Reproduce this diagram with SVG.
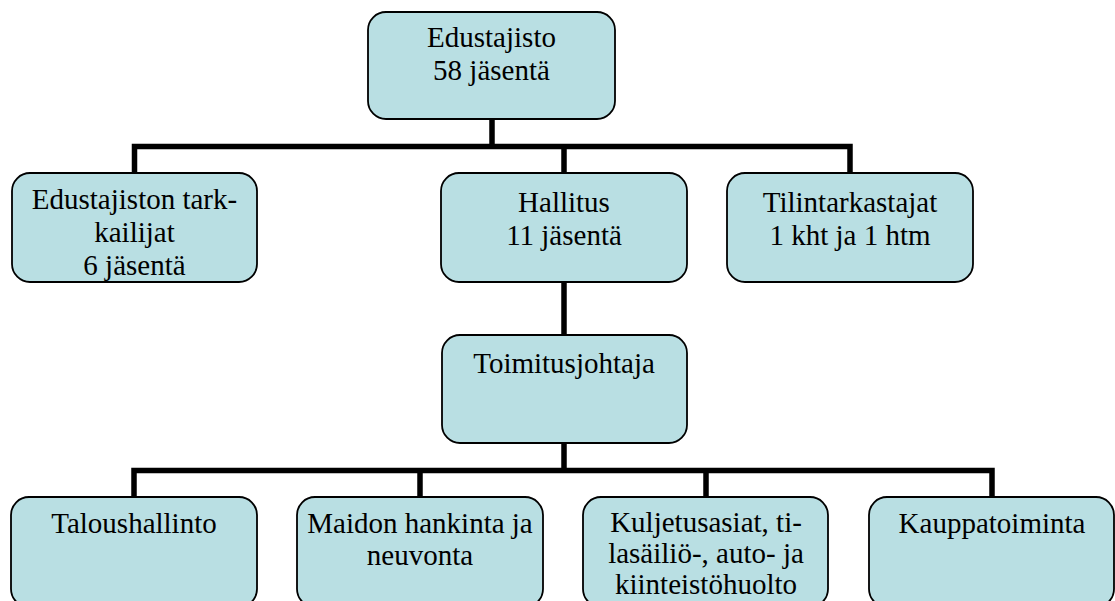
<svg xmlns="http://www.w3.org/2000/svg" width="1115" height="601" viewBox="0 0 1115 601">
<style>
.box{fill:#B9DFE3;stroke:#000;stroke-width:1.8}
.lbl{font-family:'Liberation Serif','Times New Roman',serif;font-size:29px;fill:#000;text-anchor:middle}
.con{stroke:#000;stroke-width:5.5;fill:none;stroke-linecap:butt;stroke-linejoin:miter}
</style>
<defs>
<clipPath id="clipL"><rect x="12" y="173" width="245" height="108" rx="18"/></clipPath>
</defs>
<rect width="1115" height="601" fill="#fff"/>
<g id="connectors">
<path class="con" d="M492,119 V146.5 M134.5,173 V146.5 H850 V173 M564,146.5 V173"/>
<path class="con" d="M564,282 V335"/>
<path class="con" d="M564,443 V470.5 M134,497 V470.5 H992 V497 M420,470.5 V497 M706,470.5 V497"/>
</g>
<g id="edustajisto">
<rect class="box" x="368" y="12" width="247" height="107" rx="18"/>
<text class="lbl" x="491.5" y="47">Edustajisto</text>
<text class="lbl" x="491.5" y="80">58 jäsentä</text>
</g>
<g id="tarkkailijat">
<rect class="box" x="12" y="173" width="245" height="109" rx="18"/>
<g clip-path="url(#clipL)">
<text class="lbl" x="134.5" y="209">Edustajiston tark-</text>
<text class="lbl" x="134.5" y="242">kailijat</text>
<text class="lbl" x="134.5" y="275">6 jäsentä</text>
</g>
</g>
<g id="hallitus">
<rect class="box" x="441" y="173" width="246" height="109" rx="18"/>
<text class="lbl" x="564" y="212">Hallitus</text>
<text class="lbl" x="564" y="245">11 jäsentä</text>
</g>
<g id="tilintarkastajat">
<rect class="box" x="727" y="173" width="246" height="109" rx="18"/>
<text class="lbl" x="850" y="212">Tilintarkastajat</text>
<text class="lbl" x="850" y="245">1 kht ja 1 htm</text>
</g>
<g id="toimitusjohtaja">
<rect class="box" x="442" y="335" width="245" height="108" rx="18"/>
<text class="lbl" x="564" y="373">Toimitusjohtaja</text>
</g>
<g id="taloushallinto">
<rect class="box" x="11" y="497" width="246" height="110" rx="18"/>
<text class="lbl" x="134" y="533">Taloushallinto</text>
</g>
<g id="maidonhankinta">
<rect class="box" x="297" y="497" width="246" height="110" rx="18"/>
<text class="lbl" x="420" y="533">Maidon hankinta ja</text>
<text class="lbl" x="420" y="565">neuvonta</text>
</g>
<g id="kuljetusasiat">
<rect class="box" x="583" y="497" width="245" height="110" rx="18"/>
<text class="lbl" x="706" y="532">Kuljetusasiat, ti-</text>
<text class="lbl" x="706" y="563">lasäiliö-, auto- ja</text>
<text class="lbl" x="706" y="594">kiinteistöhuolto</text>
</g>
<g id="kauppatoiminta">
<rect class="box" x="869" y="497" width="245" height="110" rx="18"/>
<text class="lbl" x="992" y="533">Kauppatoiminta</text>
</g>
</svg>
